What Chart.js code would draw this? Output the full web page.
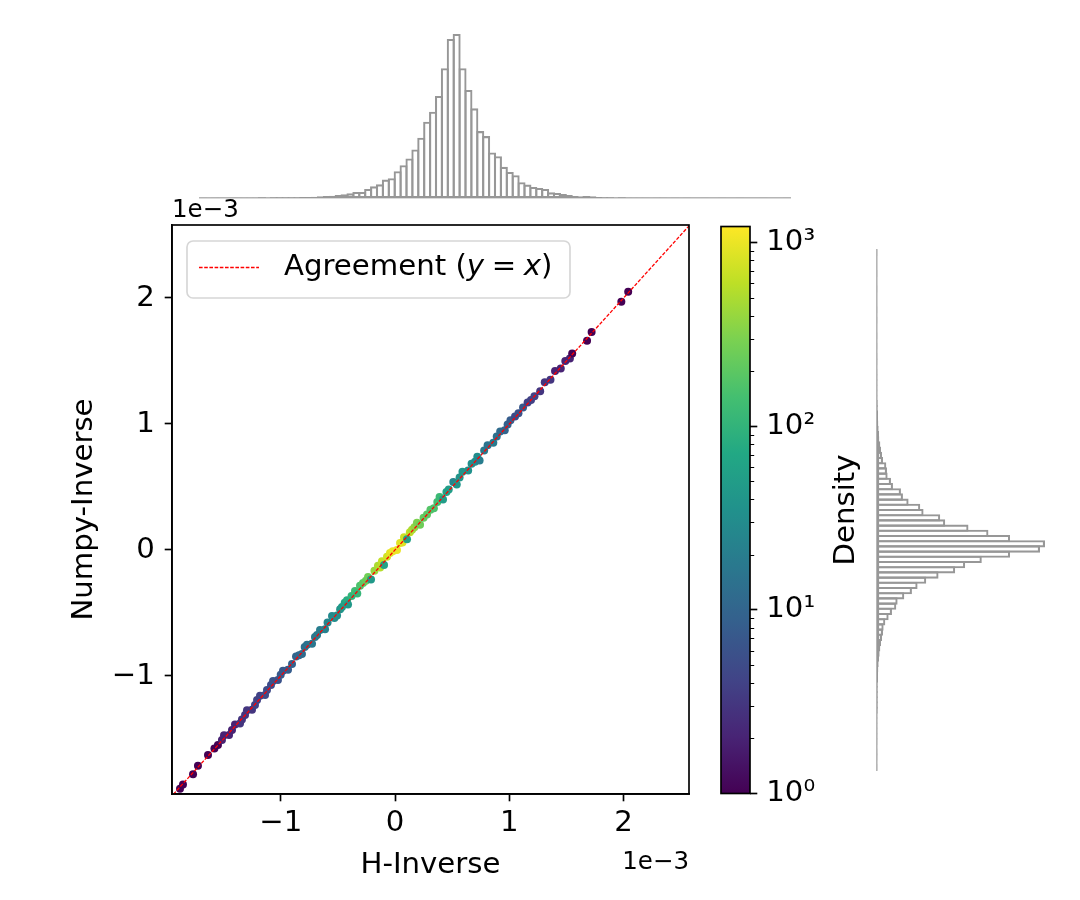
<!DOCTYPE html>
<html><head><meta charset="utf-8">
<script src="https://cdn.jsdelivr.net/npm/chart.js@4.4.1/dist/chart.umd.min.js"></script>
<style>
html,body{margin:0;padding:0;background:#fff;}
#wrap{position:relative;width:1080px;height:900px;overflow:hidden;background:#fff;}
canvas{position:absolute;}
</style></head><body>
<div id="wrap">
<canvas id="main" width="700" height="900" style="left:0;top:0"></canvas>
<canvas id="topHist" width="600" height="190" style="left:195px;top:15px"></canvas>
<canvas id="rightHist" width="200" height="540" style="left:870px;top:240px"></canvas>
<canvas id="cbar" width="200" height="620" style="left:700px;top:200px"></canvas>
</div>
<script>
// ---------------- data (values in units of 1e-3) ----------------
const hInverse = [
 -1.881,-1.855,-1.767,-1.724,-1.636,-1.580,-1.549,-1.514,-1.496,-1.452,
 -1.426,-1.400,-1.356,-1.339,-1.312,-1.295,-1.251,-1.225,-1.207,-1.181,
 -1.137,-1.120,-1.085,-1.067,-1.024,-1.000,-0.980,-0.936,-0.901,-0.866,
 -0.840,-0.814,-0.790,-0.770,-0.726,-0.700,-0.682,-0.656,-0.612,-0.590,
 -0.551,-0.530,-0.507,-0.480,-0.464,-0.440,-0.420,-0.411,-0.380,-0.350,
 -0.330,-0.306,-0.280,-0.255,-0.236,-0.210,-0.180,-0.149,-0.130,-0.114,
 -0.096,-0.070,-0.044,-0.020,0.017,0.044,0.065,0.079,0.105,0.130,
 0.149,0.170,0.192,0.219,0.250,0.280,0.310,0.340,0.370,0.390,
 0.420,0.450,0.470,0.510,0.540,0.565,0.590,0.640,0.670,0.700,
 0.720,0.740,0.780,0.810,0.860,0.890,0.920,0.960,0.985,1.010,
 1.050,1.080,1.120,1.160,1.190,1.220,1.270,1.310,1.360,1.400,
 1.450,1.490,1.530,1.550,1.680,1.720,1.980,2.040];
const numpyInverse = [
 -1.895,-1.862,-1.780,-1.712,-1.628,-1.575,-1.548,-1.508,-1.470,-1.468,
 -1.429,-1.385,-1.378,-1.345,-1.310,-1.272,-1.268,-1.230,-1.190,-1.158,
 -1.151,-1.111,-1.071,-1.040,-1.032,-0.990,-0.958,-0.950,-0.905,-0.845,
 -0.835,-0.825,-0.770,-0.752,-0.745,-0.690,-0.675,-0.635,-0.630,-0.575,
 -0.525,-0.540,-0.520,-0.470,-0.452,-0.420,-0.400,-0.432,-0.365,-0.325,
 -0.345,-0.285,-0.262,-0.245,-0.215,-0.235,-0.165,-0.125,-0.140,-0.090,
 -0.120,-0.055,-0.025,-0.010,0.000,0.055,0.060,0.100,0.085,0.140,
 0.160,0.180,0.215,0.200,0.255,0.282,0.320,0.330,0.380,0.420,
 0.400,0.460,0.480,0.540,0.520,0.575,0.620,0.630,0.685,0.700,
 0.740,0.710,0.790,0.830,0.850,0.900,0.940,0.950,0.995,1.030,
 1.060,1.085,1.130,1.170,1.190,1.220,1.260,1.330,1.350,1.420,
 1.440,1.500,1.520,1.560,1.660,1.730,1.970,2.050];
const density = [
 1,1,1,1,1,1,1,2,2,2,
 2,2,3,3,3,3,3,4,4,4,
 5,5,5,6,6,7,7,8,9,10,
 11,12,13,14,16,17,18,20,22,25,
 28,30,32,38,45,60,80,45,100,130,
 110,160,200,230,260,45,400,500,550,650,
 60,750,900,1000,1000,900,850,700,60,600,
 500,380,300,250,220,200,180,160,140,120,
 50,60,50,25,40,40,40,35,32,30,
 30,20,18,15,18,14,12,10,9,8,
 5,6,7,4,4,4,3,3,3,2,
 2,2,2,1,1,1,1,1];
const topHistCounts = [
 1,0,1,1,0,1,1,1,1,1, 2,1,2,2,2,2,2,3,3,4, 5,6,7,9,11,14,18,18,27,35,
 41,55,59,80,98,118,145,180,228,258, 305,388,475,490,388,323,268,200,185,136,
 125,93,78,68,47,40,33,30,27,17, 15,12,9,6,5,6,5,3,2,2, 1,2,1,1,1,1,0,1,1,0,
 1,0,1,0,0,1,0,0,1,0, 0,1,0,0,0,1,0,0,0,1];
const rightHistCounts = [
 1,0,1,1,0,1,1,1,1,1, 1,2,2,2,2,2,2,3,3,4, 5,6,8,10,12,15,18,20,25,35,
 45,58,62,82,105,122,148,185,235,265, 315,400,490,505,400,335,275,205,190,140,
 130,95,78,72,48,42,32,30,28,18, 15,12,10,7,6,5,4,3,3,2, 2,1,1,1,1,1,1,0,1,1,
 0,1,0,1,0,0,1,0,1,0, 0,0,1,0,0,1,0,0,0,1];
const xLimits = [-1.951, 2.572];
const yLimits = [-1.937, 2.579];
const xTicks = [-1, 0, 1, 2];
const yTicks = [-1, 0, 1, 2];
const agreementLine = [-2.0, 2.7];
const cbRange = [1, 1222];
const cbTicks = [1, 10, 100, 1000];
const cbTickLabels = ['10\u2070', '10\u00B9', '10\u00B2', '10\u00B3'];
const offsetText = '1e\u22123';
const legendLabel = ['Agreement (', 'y', '=', 'x', ')'];
const xTitle = 'H-Inverse';
const yTitle = 'Numpy-Inverse';
const cbTitle = 'Density';

// ---------------- styling helpers ----------------
const FONT = "'DejaVu Sans'";
const FS = 29.2;
Chart.defaults.font.family = FONT;
Chart.defaults.color = '#000';
const viridisStops = ['#440154','#482475','#414487','#355f8d','#2a788e','#21918c','#22a884','#44bf70','#7ad151','#bddf26','#fde725'];
function hex2rgb(h){return [parseInt(h.substr(1,2),16),parseInt(h.substr(3,2),16),parseInt(h.substr(5,2),16)];}
function viridis(t){
  t=Math.max(0,Math.min(1,t));
  const n=viridisStops.length-1; const i=Math.min(n-1,Math.floor(t*n)); const f=t*n-i;
  const a=hex2rgb(viridisStops[i]), b=hex2rgb(viridisStops[i+1]);
  return 'rgb('+a.map((v,k)=>Math.round(v+(b[k]-v)*f)).join(',')+')';
}
const logMax = Math.log10(cbRange[1]);
const fmt = v => (v < 0 ? '\u2212' + Math.abs(v) : String(v));

// ---------------- main chart ----------------
const mainDecor = {
  id: 'mainDecor',
  afterDraw(chart) {
    const {ctx, chartArea: ca} = chart;
    ctx.save();
    ctx.strokeStyle = '#000'; ctx.lineWidth = 1.67;
    ctx.strokeRect(ca.left, ca.top, ca.right - ca.left, ca.bottom - ca.top);
    ctx.fillStyle = '#000';
    ctx.font = '24.5px ' + FONT;
    ctx.textBaseline = 'alphabetic';
    ctx.textAlign = 'left';
    ctx.fillText(offsetText, ca.left, 217);
    ctx.textAlign = 'right';
    ctx.fillText(offsetText, ca.right, 869);
    // legend
    const bx = 187, by = 241, bw = 383, bh = 57, r = 6;
    ctx.beginPath();
    ctx.moveTo(bx + r, by); ctx.lineTo(bx + bw - r, by); ctx.arcTo(bx + bw, by, bx + bw, by + r, r);
    ctx.lineTo(bx + bw, by + bh - r); ctx.arcTo(bx + bw, by + bh, bx + bw - r, by + bh, r);
    ctx.lineTo(bx + r, by + bh); ctx.arcTo(bx, by + bh, bx, by + bh - r, r);
    ctx.lineTo(bx, by + r); ctx.arcTo(bx, by, bx + r, by, r); ctx.closePath();
    ctx.fillStyle = 'rgba(255,255,255,0.8)'; ctx.fill();
    ctx.strokeStyle = 'rgba(204,204,204,0.8)'; ctx.lineWidth = 1.67; ctx.stroke();
    ctx.beginPath(); ctx.setLineDash([3.6, 1.6]); ctx.strokeStyle = '#ff0000'; ctx.lineWidth = 1.5;
    ctx.moveTo(199, 267.5); ctx.lineTo(259, 267.5); ctx.stroke(); ctx.setLineDash([]);
    ctx.fillStyle = '#000'; ctx.textAlign = 'left';
    let x = 284; const yb = 275;
    const normal = FS + 'px ' + FONT, ital = 'italic ' + FS + 'px ' + FONT;
    ctx.font = normal; ctx.fillText(legendLabel[0], x, yb); x += ctx.measureText(legendLabel[0]).width;
    ctx.font = ital; ctx.fillText(legendLabel[1], x, yb); x += ctx.measureText(legendLabel[1]).width + 0.26 * FS;
    ctx.font = normal; ctx.fillText(legendLabel[2], x, yb); x += ctx.measureText(legendLabel[2]).width + 0.26 * FS;
    ctx.font = ital; ctx.fillText(legendLabel[3], x, yb); x += ctx.measureText(legendLabel[3]).width;
    ctx.font = normal; ctx.fillText(legendLabel[4], x, yb);
    ctx.restore();
  }
};

new Chart(document.getElementById('main'), {
  type: 'scatter',
  data: {
    datasets: [
      { type: 'line', label: legendLabel.join(''), data: agreementLine.map(v => ({x: v, y: v})),
        borderColor: '#ff0000', borderWidth: 1.3, borderDash: [3.6, 1.6], pointRadius: 0, fill: false, order: 0 },
      { type: 'scatter', label: 'points', data: hInverse.map((x, i) => ({x: x, y: numpyInverse[i]})),
        backgroundColor: density.map(d => viridis(Math.log10(d) / logMax)),
        pointRadius: 4, borderWidth: 0, order: 1 }
    ]
  },
  options: {
    responsive: false, animation: false, devicePixelRatio: 1,
    layout: { padding: { top: 225, right: 11, left: 0, bottom: 0 } },
    plugins: { legend: { display: false }, tooltip: { enabled: false } },
    scales: {
      x: {
        type: 'linear', min: xLimits[0], max: xLimits[1],
        afterBuildTicks: s => { s.ticks = xTicks.map(v => ({value: v})); },
        afterFit: s => { s.height = 106; },
        grid: { drawOnChartArea: false, tickLength: 7.3, tickWidth: 1.67, tickColor: '#000' },
        border: { display: true, color: '#000', width: 1.67 },
        ticks: { callback: v => fmt(v), font: { size: FS }, color: '#000', padding: 5, maxRotation: 0 },
        title: { display: true, text: xTitle, font: { size: FS }, color: '#000', padding: { top: 0, bottom: 17.5 } }
      },
      y: {
        type: 'linear', min: yLimits[0], max: yLimits[1],
        afterBuildTicks: s => { s.ticks = yTicks.map(v => ({value: v})); },
        afterFit: s => { s.width = 172; },
        grid: { drawOnChartArea: false, tickLength: 7.3, tickWidth: 1.67, tickColor: '#000' },
        border: { display: true, color: '#000', width: 1.67 },
        ticks: { callback: v => fmt(v), font: { size: FS }, color: '#000', padding: 10 },
        title: { display: true, text: yTitle, font: { size: FS }, color: '#000', padding: { top: 66.5, bottom: 0 } }
      }
    }
  },
  plugins: [mainDecor]
});

// ---------------- top histogram ----------------
const histColor = '#979797';
const histLW = 2.1;
new Chart(document.getElementById('topHist'), {
  type: 'bar',
  data: { labels: topHistCounts.map((_, i) => i),
    datasets: [{ data: topHistCounts, backgroundColor: 'rgba(0,0,0,0)', borderColor: histColor,
      borderWidth: histLW, borderSkipped: false, barPercentage: 1.36, categoryPercentage: 1, inflateAmount: 0 }] },
  options: {
    responsive: false, animation: false, devicePixelRatio: 1,
    layout: { padding: { left: 5, right: 5, top: 19, bottom: 7 } },
    plugins: { legend: { display: false }, tooltip: { enabled: false } },
    scales: {
      x: { display: true, afterFit: s => { s.height = 0; }, ticks: { display: false },
           grid: { display: false }, border: { display: true, color: '#b5b5b5', width: 1.6 } },
      y: { display: false, min: 0, max: Math.max(...topHistCounts) }
    }
  }
});

// ---------------- right histogram ----------------
new Chart(document.getElementById('rightHist'), {
  type: 'bar',
  data: { labels: rightHistCounts.map((_, i) => i),
    datasets: [{ data: rightHistCounts, backgroundColor: 'rgba(0,0,0,0)', borderColor: histColor,
      borderWidth: histLW, borderSkipped: false, barPercentage: 1.4, categoryPercentage: 1, inflateAmount: 0 }] },
  options: {
    indexAxis: 'y',
    responsive: false, animation: false, devicePixelRatio: 1,
    layout: { padding: { left: 7, right: 25, top: 10, bottom: 10 } },
    plugins: { legend: { display: false }, tooltip: { enabled: false } },
    scales: {
      y: { display: true, reverse: true, position: 'left', afterFit: s => { s.width = 0; }, ticks: { display: false },
           grid: { display: false }, border: { display: true, color: '#b5b5b5', width: 1.6 } },
      x: { display: false, min: 0, max: Math.max(...rightHistCounts) }
    }
  }
});

// ---------------- colorbar ----------------
const cbDecor = {
  id: 'cbDecor',
  afterDraw(chart) {
    const {ctx, chartArea: ca} = chart;
    const sc = chart.scales.y;
    ctx.save();
    ctx.strokeStyle = '#000'; ctx.lineWidth = 1.67;
    ctx.strokeRect(ca.left, ca.top, ca.right - ca.left, ca.bottom - ca.top);
    ctx.beginPath();
    for (let k = 0; k < 4; k++) {
      for (let m = 2; m <= 9; m++) {
        const v = m * Math.pow(10, k);
        if (v > cbRange[1]) continue;
        const py = Math.round(sc.getPixelForValue(v)) + 0.5;
        ctx.moveTo(ca.right, py); ctx.lineTo(ca.right + 4.2, py);
      }
    }
    ctx.lineWidth = 1.2; ctx.stroke();
    ctx.fillStyle = '#000';
    ctx.font = FS + 'px ' + FONT;
    ctx.textAlign = 'center'; ctx.textBaseline = 'middle';
    ctx.translate(146, (ca.top + ca.bottom) / 2);
    ctx.rotate(-Math.PI / 2);
    ctx.fillText(cbTitle, 0, 0);
    ctx.restore();
  }
};
new Chart(document.getElementById('cbar'), {
  type: 'bar',
  data: { labels: [''],
    datasets: [{ data: [[cbRange[0], cbRange[1]]], borderWidth: 0, borderSkipped: false,
      barPercentage: 1, categoryPercentage: 1, inflateAmount: 0,
      backgroundColor: (c) => {
        const ca = c.chart.chartArea; if (!ca) return '#21918c';
        const g = c.chart.ctx.createLinearGradient(0, ca.bottom, 0, ca.top);
        viridisStops.forEach((s, i) => g.addColorStop(i / (viridisStops.length - 1), s));
        return g;
      } }] },
  options: {
    responsive: false, animation: false, devicePixelRatio: 1,
    layout: { padding: { left: 21, right: 0, top: 25, bottom: 26 } },
    plugins: { legend: { display: false }, tooltip: { enabled: false } },
    scales: {
      x: { display: false },
      y: { type: 'logarithmic', position: 'right', min: cbRange[0], max: cbRange[1],
        afterBuildTicks: s => { s.ticks = cbTicks.map(v => ({value: v})); },
        afterFit: s => { s.width = 150; },
        grid: { drawOnChartArea: false, tickLength: 7.3, tickWidth: 1.67, tickColor: '#000' },
        border: { display: false },
        ticks: { callback: (v, i) => cbTickLabels[i], font: { size: FS }, color: '#000', padding: 9 } }
    }
  },
  plugins: [cbDecor]
});
</script>
</body></html>
